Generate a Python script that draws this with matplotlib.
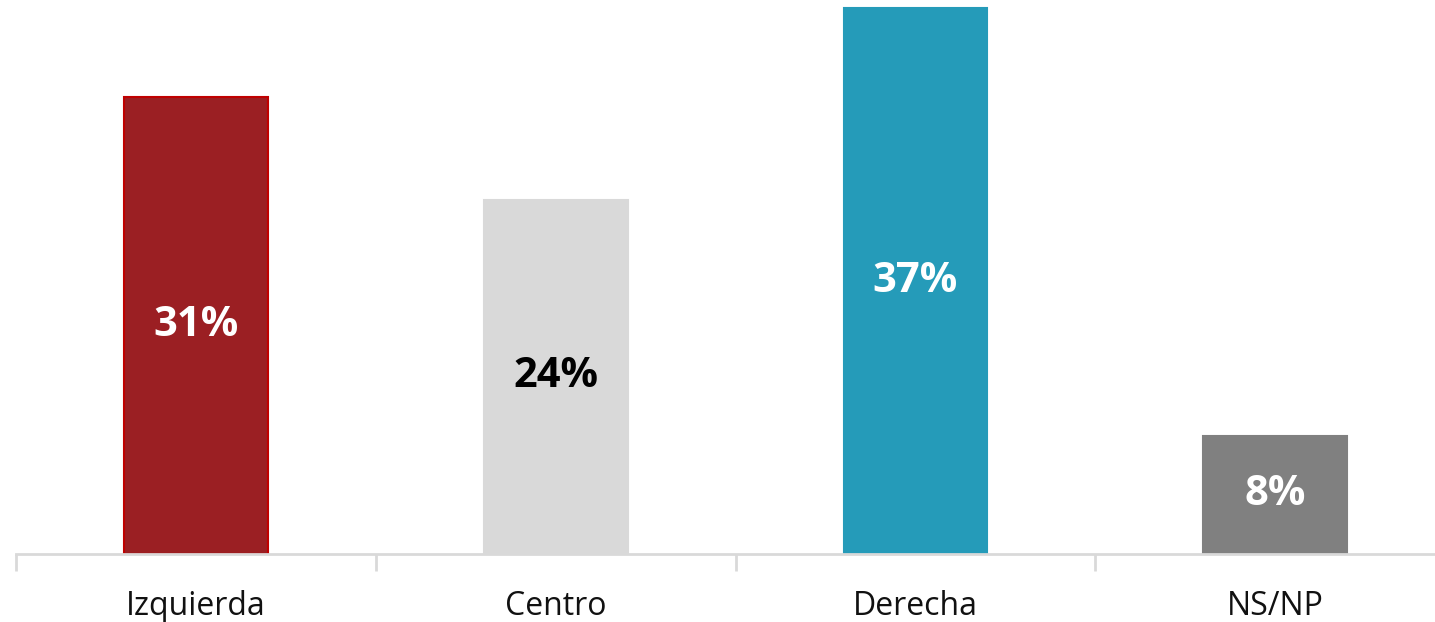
import matplotlib.pyplot as plt

# Data
categories = ["Izquierda", "Centro", "Derecha", "NS/NP"]
values = [31, 24, 37, 8]
colors = ["#9B1F23", "#D9D9D9", "#259BB9", "#808080"]
edges = ["#C00000", "#D9D9D9", "#259BB9", "#808080"]
label_colors = ["white", "black", "white", "white"]

plt.rcParams['font.family'] = ['Open Sans', 'DejaVu Sans']

fig = plt.figure(figsize=(14.35, 6.22), dpi=100)
ax = fig.add_axes([16 / 1435, 68 / 622, 1 - 16 / 1435, 1 - 68 / 622])

x = range(len(categories))
bars = ax.bar(x, values, width=0.4, color=colors, edgecolor=edges, linewidth=1.5)

for b, v, c in zip(bars, values, label_colors):
    ax.text(b.get_x() + b.get_width() / 2, v / 2, f"{v}%", ha="center", va="center",
            color=c, fontsize=30, fontweight="bold")

ax.set_xlim(-0.5, 3.444)
ax.set_ylim(0, 37.55)

for s in ["top", "right", "left"]:
    ax.spines[s].set_visible(False)
ax.spines["bottom"].set_color("#D9D9D9")
ax.spines["bottom"].set_linewidth(2)

ax.set_yticks([])
ax.set_xticks(list(x))
ax.set_xticklabels(categories, fontsize=23, color="#111111")
ax.tick_params(axis="x", which="major", length=0, pad=26)
ax.set_xticks([-0.5, 0.5, 1.5, 2.5], minor=True)
ax.tick_params(axis="x", which="minor", length=12, width=2, color="#D9D9D9", direction="out")

fig.savefig("out.png", dpi=100)
